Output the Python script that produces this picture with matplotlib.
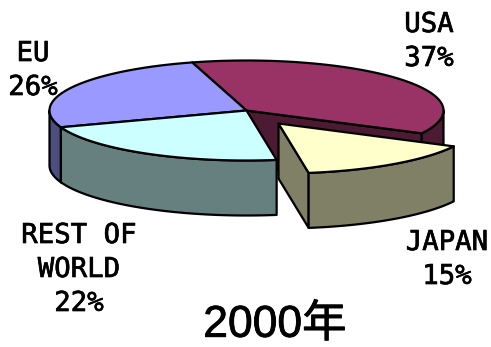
import numpy as np
import matplotlib
matplotlib.use("Agg")
import matplotlib.pyplot as plt
import matplotlib.patheffects as pe
from matplotlib.patches import Polygon

# 2000 share by region, clockwise from the top of the pie
regions = ["USA", "JAPAN", "REST OF\nWORLD", "EU"]
shares = [37, 15, 22, 26]
top_colors = ["#993366", "#ffffcc", "#ccffff", "#9999ff"]
side_colors = ["#4d1a33", "#808066", "#668080", "#4d4d80"]
exploded = ["JAPAN"]
title = "2000年"

W, H = 491, 347
CX, CY, RX, RY = 246.5, 110.5, 197, 50
DEPTH = 55
START = 106
OFFSET = (32, 13)
LABEL_FONT = ["DejaVu Sans Mono"]

fig = plt.figure(figsize=(W / 100, H / 100), dpi=100)
ax = fig.add_axes([0, 0, 1, 1])
ax.set_xlim(0, W)
ax.set_ylim(H, 0)
ax.axis("off")


def rim(a0, a1, cx, cy, n=80):
    t = np.radians(np.linspace(a0, a1, n))
    return np.column_stack([cx + RX * np.cos(t), cy - RY * np.sin(t)])


def draw_wedge(a0, a1, cx, cy, top, side, z):
    """Draw one extruded slice spanning a0 clockwise to a1 degrees."""
    style = dict(edgecolor="black", linewidth=1.6, joinstyle="round")
    # a flat cut wall shows when its outward normal points toward the viewer
    for ang, normal in ((a0, a0 + 90), (a1, a1 - 90)):
        if np.sin(np.radians(normal)) < 0:
            p = rim(ang, ang, cx, cy, 1)[0]
            wall = [(cx, cy), p, (p[0], p[1] + DEPTH), (cx, cy + DEPTH)]
            ax.add_patch(Polygon(wall, closed=True, facecolor=side, zorder=z, **style))
    # outer wall: only the part of the rim on the lower half of the ellipse
    lo, hi = max(a1, -180), min(a0, 0)
    if lo < hi:
        front = rim(hi, lo, cx, cy)
        wall = np.vstack([front, (front + [0, DEPTH])[::-1]])
        ax.add_patch(Polygon(wall, closed=True, facecolor=side, zorder=z + 0.1, **style))
    outline = np.vstack([[(cx, cy)], rim(a0, a1, cx, cy)])
    ax.add_patch(Polygon(outline, closed=True, facecolor=top, zorder=z + 0.2, **style))


angle = START
spans = {}
for name, share in zip(regions, shares):
    sweep = 360 * share / sum(shares)
    spans[name] = (angle, angle - sweep)
    angle -= sweep

# back to front so nearer slices overlap the farther ones
order = ["USA", "EU", "REST OF\nWORLD", "JAPAN"]
for z, name in enumerate(order, start=2):
    i = regions.index(name)
    a0, a1 = spans[name]
    dx, dy = OFFSET if name in exploded else (0, 0)
    draw_wedge(a0, a1, CX + dx, CY + dy, top_colors[i], side_colors[i], z * 2)

label_xy = {"USA": (429, 42), "JAPAN": (447, 260), "REST OF\nWORLD": (79, 270), "EU": (33, 71)}
heavier = [pe.withStroke(linewidth=0.5, foreground="black")]
for name, share in zip(regions, shares):
    x, y = label_xy[name]
    ax.text(x, y, f"{name}\n{share}%", ha="center", va="center", ma="center",
            family=LABEL_FONT, fontsize=19.7, linespacing=1.4, color="black", zorder=20,
            path_effects=heavier)

ax.text(275, 325, title, ha="center", va="center",
        family=["Liberation Sans", "Noto Sans CJK JP"], fontsize=32, color="black", zorder=20,
        path_effects=[pe.withStroke(linewidth=0.6, foreground="black")])

fig.savefig("out.png", dpi=100)
